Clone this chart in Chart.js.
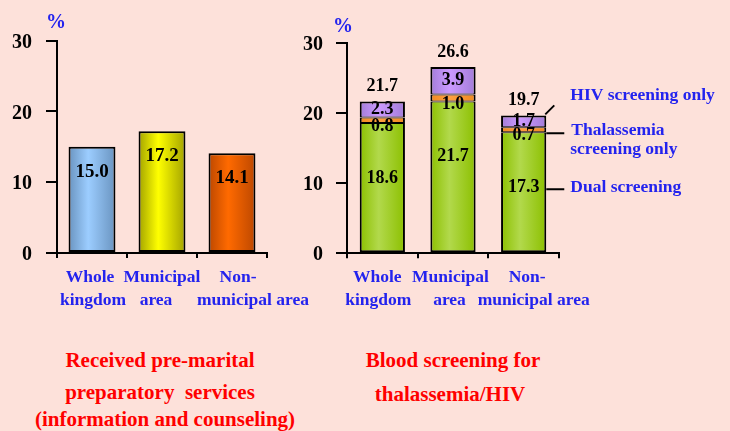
<!DOCTYPE html>
<html lang="en">
<head>
<meta charset="UTF-8" />
<title>Pre-marital services and blood screening</title>
<script src="https://cdn.jsdelivr.net/npm/chart.js"></script>
<style>
  body {
    margin: 0;
    width: 730px;
    height: 431px;
    overflow: hidden;
    position: relative;
    background-color: #fde1da;
    font-family: 'Liberation Serif', 'Times New Roman', serif;
  }
  canvas { position: absolute; top: 0; }
  #left { left: 0; }
  #right { left: 300px; }
  .pct {
    position: absolute;
    color: #2323ee;
    font-weight: bold;
    font-size: 20px;
    line-height: 22px;
  }
  .title {
    position: absolute;
    color: #ff0000;
    font-weight: bold;
    font-size: 21px;
    line-height: 24px;
    text-align: center;
    white-space: nowrap;
  }
</style>
</head>
<body>
  <canvas id="left" width="320" height="320"></canvas>
  <canvas id="right" width="430" height="320"></canvas>

  <div class="pct" style="left:46px; top:10px;">%</div>
  <div class="pct" style="left:333px; top:14px;">%</div>

  <div class="title" style="left:0; width:320px; top:348px;">Received pre-marital</div>
  <div class="title" style="left:0; width:320px; top:380px;">preparatory&nbsp; services</div>
  <div class="title" style="left:5px; width:320px; top:407px;">(information and counseling)</div>
  <div class="title" style="left:300px; width:306px; top:348px;">Blood screening for</div>
  <div class="title" style="left:300px; width:300px; top:382px;">thalassemia/HIV</div>

  <script>
    // data
    const categories = [['Whole', 'kingdom'], ['Municipal', 'area'], ['Non-', 'municipal area']];
    const prepValues = [15.0, 17.2, 14.1];
    const dualValues = [18.6, 21.7, 17.3];
    const thalValues = [0.8, 1.0, 0.7];
    const hivValues = [2.3, 3.9, 1.7];
    const totalValues = [21.7, 26.6, 19.7];
    const yTicks = [0, 10, 20, 30];

    const FONT = "'Liberation Serif', 'Times New Roman', serif";
    const BLUE = '#2323ee';
    Chart.defaults.font.family = FONT;
    Chart.defaults.animation = false;

    // colours (edge, middle of the shaded bars)
    const prepEdge = ['#6a94c0', '#a3a300', '#bd4800'];
    const prepMid = ['#9ccdff', '#ffff00', '#ff6a00'];

    // the category labels are not quite centred in the original
    const leftShift = [[-2, 1], [0, -6], [6, 21]];
    const rightShift = [[-5, -4], [-2.5, -3.5], [3.5, 10]];

    function shade(edges, mids, pct) {
      return (c) => {
        const i = c.dataIndex;
        const edge = Array.isArray(edges) ? edges[i] : edges;
        const mid = Array.isArray(mids) ? mids[i] : mids;
        const chart = c.chart, area = chart.chartArea;
        if (!area || i === undefined) return mid;
        const x = chart.scales.x.getPixelForValue(i);
        const w = area.width / chart.data.labels.length * pct;
        const g = chart.ctx.createLinearGradient(x - w / 2, 0, x + w / 2, 0);
        g.addColorStop(0, edge);
        g.addColorStop(0.42, mid);
        g.addColorStop(1, edge);
        return g;
      };
    }

    function axes(yWidth, xHeight, yPad) {
      return {
        x: {
          afterFit: s => { s.height = xHeight; },
          grid: { drawOnChartArea: false, tickLength: 5, color: '#000', lineWidth: 2 },
          border: { color: '#000', width: 2 },
          ticks: { display: false }
        },
        y: {
          min: 0, max: 30,
          afterFit: s => { s.width = yWidth; },
          afterBuildTicks: s => { s.ticks = yTicks.map(v => ({ value: v })); },
          grid: { drawOnChartArea: false, tickLength: 11, color: '#000', lineWidth: 2 },
          border: { color: '#000', width: 2 },
          ticks: { color: '#000', padding: yPad, labelOffset: 2, font: { size: 20, weight: 'bold' } }
        }
      };
    }

    function xLabels(shift) {
      return {
        id: 'xLabels',
        afterDraw(chart) {
          const ctx = chart.ctx, sx = chart.scales.x;
          const top = chart.chartArea.bottom + 24;
          ctx.save();
          ctx.font = 'bold 17.5px ' + FONT;
          ctx.fillStyle = BLUE;
          ctx.textAlign = 'center';
          ctx.textBaseline = 'middle';
          categories.forEach((lines, i) => {
            lines.forEach((t, j) => {
              ctx.fillText(t, sx.getPixelForValue(i) + shift[i][j], top + j * 23);
            });
          });
          ctx.restore();
        }
      };
    }

    // left chart: pre-marital services
    const prepLabels = {
      id: 'prepLabels',
      afterDatasetsDraw(chart) {
        const ctx = chart.ctx;
        ctx.save();
        ctx.font = 'bold 19px ' + FONT;
        ctx.fillStyle = '#000';
        ctx.textAlign = 'center';
        ctx.textBaseline = 'middle';
        chart.getDatasetMeta(0).data.forEach((bar, i) => {
          ctx.fillText(prepValues[i].toFixed(1), bar.x, bar.y + 25);
        });
        ctx.restore();
      }
    };

    new Chart(document.getElementById('left'), {
      type: 'bar',
      data: {
        labels: categories,
        datasets: [{
          data: prepValues,
          backgroundColor: shade(prepEdge, prepMid, 0.67),
          borderColor: '#000',
          borderWidth: 2,
          borderSkipped: false,
          categoryPercentage: 1,
          barPercentage: 0.67
        }]
      },
      options: {
        responsive: false,
        layout: { padding: { top: 40.7, right: 53, bottom: 0, left: 0 } },
        plugins: { legend: { display: false }, tooltip: { enabled: false } },
        scales: axes(57, 67, 14)
      },
      plugins: [prepLabels, xLabels(leftShift)]
    });

    // right chart: blood screening, stacked
    const screenLabels = {
      id: 'screenLabels',
      afterDatasetsDraw(chart) {
        const ctx = chart.ctx;
        const dual = chart.getDatasetMeta(0).data;
        const thal = chart.getDatasetMeta(1).data;
        const hiv = chart.getDatasetMeta(2).data;
        ctx.save();
        ctx.fillStyle = '#000';
        ctx.textAlign = 'center';
        ctx.textBaseline = 'middle';
        ctx.font = 'bold 18px ' + FONT;
        for (let i = 0; i < categories.length; i++) {
          ctx.fillText(dualValues[i].toFixed(1), dual[i].x, dual[i].y + 55);
          ctx.fillText(thalValues[i].toFixed(1), thal[i].x, thal[i].base + 3);
          ctx.fillText(hivValues[i].toFixed(1), hiv[i].x, (hiv[i].y + hiv[i].base) / 2);
          ctx.fillText(totalValues[i].toFixed(1), hiv[i].x, hiv[i].y - 15);
        }

        // series names with leader lines, hung off the last bar
        const last = categories.length - 1;
        const h = hiv[last], t = thal[last], d = dual[last];
        const right = h.x + h.width / 2;
        ctx.strokeStyle = '#000';
        ctx.lineWidth = 2;
        ctx.beginPath();
        ctx.moveTo(right - 1, h.y - 1);
        ctx.lineTo(right + 8, h.y - 10);
        ctx.moveTo(right, t.base + 1);
        ctx.lineTo(right + 18, t.base + 1);
        ctx.moveTo(right, d.y + 57);
        ctx.lineTo(right + 18, d.y + 57);
        ctx.stroke();

        ctx.fillStyle = BLUE;
        ctx.textAlign = 'left';
        ctx.font = 'bold 17.5px ' + FONT;
        ctx.fillText('HIV screening only', right + 24, h.y - 20);
        ctx.fillText('Thalassemia', right + 25, t.base - 2);
        ctx.fillText('screening only', right + 24, t.base + 17);
        ctx.fillText('Dual screening', right + 24, d.y + 55);
        ctx.restore();
      }
    };

    // one 2px line between stacked segments, 2px round the outside
    const stackBar = { borderColor: '#000', borderSkipped: false, categoryPercentage: 1, barPercentage: 0.64 };

    new Chart(document.getElementById('right'), {
      type: 'bar',
      data: {
        labels: categories,
        datasets: [
          Object.assign({
            label: 'Dual screening', data: dualValues,
            backgroundColor: shade('#8cc000', '#b2d94c', 0.64),
            borderWidth: { top: 1, bottom: 2, left: 2, right: 2 }
          }, stackBar),
          Object.assign({
            label: 'Thalassemia screening only', data: thalValues,
            backgroundColor: shade('#f08a20', '#ffa040', 0.64),
            borderWidth: { top: 1, bottom: 1, left: 2, right: 2 }
          }, stackBar),
          Object.assign({
            label: 'HIV screening only', data: hivValues,
            backgroundColor: shade('#a27cd8', '#cc9aff', 0.64),
            borderWidth: { top: 2, bottom: 1, left: 2, right: 2 }
          }, stackBar)
        ]
      },
      options: {
        responsive: false,
        layout: { padding: { top: 43.3, right: 171, bottom: 0, left: 0 } },
        plugins: { legend: { display: false }, tooltip: { enabled: false } },
        scales: (() => {
          const s = axes(47, 66.7, 13);
          s.x.stacked = true;
          s.y.stacked = true;
          return s;
        })()
      },
      plugins: [screenLabels, xLabels(rightShift)]
    });
  </script>
</body>
</html>
